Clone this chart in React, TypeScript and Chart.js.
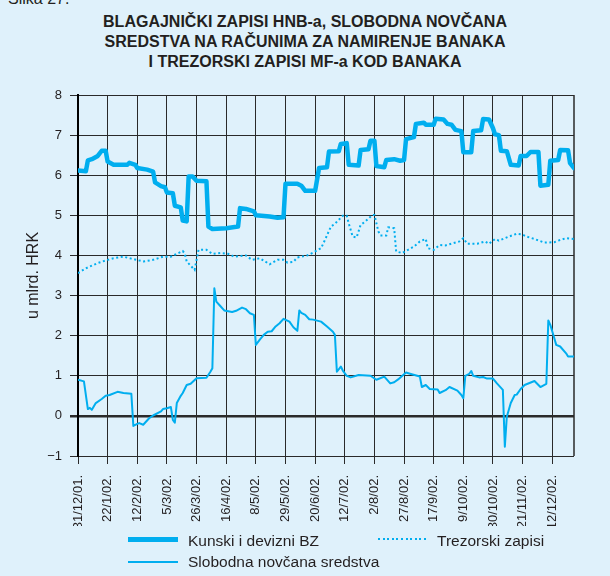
import { useEffect, useRef } from 'react';
import { Chart, registerables } from 'chart.js';

Chart.register(...registerables);

// ---- data (x = business-day index from 31/12/01, y = billion HRK) ----
const dateLabels = ['31/12/01.', '22/1/02.', '12/2/02.', '5/3/02.', '26/3/02.', '16/4/02.', '8/5/02.', '29/5/02.', '20/6/02.', '12/7/02.', '2/8/02.', '27/8/02.', '17/9/02.', '9/10/02.', '30/10/02.', '21/11/02.', '12/12/02.'];
const yTickValues = [-1, 0, 1, 2, 3, 4, 5, 6, 7, 8];

const bzDays = [0, 4, 5, 7, 10, 12, 14, 15, 18, 25, 26, 29, 30, 35, 38, 39, 42, 44, 45, 48, 49, 52, 53, 55, 56, 58, 60, 65, 66, 68, 75, 81, 82, 85, 89, 90, 97, 101, 104, 105, 111, 113, 115, 120, 122, 126, 127, 132, 133, 136, 137, 142, 143, 147, 148, 150, 151, 155, 156, 160, 163, 165, 166, 170, 171, 175, 176, 180, 181, 185, 187, 189, 191, 194, 195, 199, 200, 204, 205, 208, 210, 211, 213, 214, 217, 219, 223, 224, 227, 229, 233, 234, 238, 239, 243, 244, 248, 249, 251];
const bzValues = [6.12, 6.10, 6.37, 6.40, 6.48, 6.61, 6.61, 6.34, 6.26, 6.26, 6.31, 6.26, 6.18, 6.14, 6.09, 5.82, 5.73, 5.70, 5.57, 5.55, 5.24, 5.20, 4.87, 4.85, 5.97, 5.97, 5.86, 5.85, 4.72, 4.66, 4.68, 4.72, 5.18, 5.16, 5.10, 5.00, 4.97, 4.94, 4.95, 5.79, 5.79, 5.74, 5.61, 5.61, 6.18, 6.20, 6.59, 6.60, 6.78, 6.80, 6.26, 6.24, 6.63, 6.65, 6.86, 6.86, 6.23, 6.20, 6.38, 6.40, 6.36, 6.38, 6.90, 6.95, 7.28, 7.31, 7.26, 7.26, 7.41, 7.39, 7.28, 7.26, 7.13, 7.10, 6.57, 6.57, 7.10, 7.12, 7.40, 7.39, 7.17, 7.02, 7.00, 6.61, 6.60, 6.26, 6.24, 6.48, 6.48, 6.58, 6.58, 5.74, 5.76, 6.36, 6.38, 6.63, 6.62, 6.30, 6.18];

const tzDays = [0, 4, 10, 15, 18, 23, 27, 33, 38, 43, 47, 50, 53, 54, 55, 59, 61, 65, 68, 72, 76, 79, 85, 88, 92, 97, 101, 104, 106, 109, 111, 116, 119, 123, 125, 128, 130, 132, 134, 136, 137, 139, 141, 143, 145, 149, 150, 152, 153, 156, 157, 160, 161, 164, 167, 170, 173, 176, 177, 180, 183, 186, 188, 193, 195, 197, 202, 206, 208, 211, 213, 218, 222, 225, 227, 231, 236, 241, 243, 247, 251];
const tzValues = [3.56, 3.68, 3.81, 3.89, 3.93, 3.97, 3.92, 3.85, 3.89, 3.97, 3.97, 4.04, 4.11, 4.05, 3.85, 3.64, 4.14, 4.14, 4.04, 4.06, 4.04, 3.97, 4.00, 3.89, 3.93, 3.78, 3.89, 3.89, 3.82, 3.84, 3.95, 4.00, 4.07, 4.18, 4.39, 4.72, 4.79, 4.89, 4.99, 4.99, 4.80, 4.47, 4.45, 4.76, 4.83, 5.01, 5.01, 4.60, 4.50, 4.50, 4.70, 4.68, 4.10, 4.06, 4.14, 4.22, 4.35, 4.41, 4.18, 4.14, 4.26, 4.25, 4.28, 4.35, 4.43, 4.29, 4.29, 4.35, 4.29, 4.41, 4.37, 4.47, 4.54, 4.52, 4.47, 4.41, 4.32, 4.33, 4.37, 4.43, 4.41];

const snDays = [0, 3, 5, 6, 7, 9, 12, 14, 16, 20, 23, 27, 28, 30, 31, 33, 36, 38, 42, 43, 45, 47, 48, 49, 50, 52, 53, 55, 57, 60, 65, 67, 68, 69, 70, 72, 74, 78, 80, 83, 85, 87, 89, 90, 92, 94, 96, 98, 100, 102, 104, 107, 109, 111, 112, 113, 115, 117, 119, 123, 126, 129, 130, 131, 133, 134, 136, 138, 142, 148, 151, 155, 158, 160, 162, 166, 168, 173, 174, 176, 178, 182, 183, 186, 188, 192, 194, 195, 196, 198, 199, 200, 203, 205, 207, 210, 212, 215, 216, 217, 219, 221, 222, 224, 226, 231, 234, 237, 238, 239, 241, 242, 244, 247, 248, 251];
const snValues = [0.90, 0.86, 0.17, 0.20, 0.15, 0.32, 0.42, 0.50, 0.52, 0.60, 0.57, 0.55, -0.25, -0.20, -0.18, -0.22, -0.06, 0.01, 0.11, 0.17, 0.19, 0.22, -0.10, -0.17, 0.32, 0.50, 0.57, 0.77, 0.80, 0.94, 0.95, 1.10, 1.19, 3.18, 2.85, 2.74, 2.63, 2.59, 2.62, 2.70, 2.66, 2.56, 2.52, 1.77, 1.90, 2.02, 2.10, 2.11, 2.23, 2.31, 2.42, 2.35, 2.21, 2.12, 2.63, 2.57, 2.52, 2.41, 2.40, 2.35, 2.23, 2.10, 2.02, 1.10, 1.23, 1.13, 1.00, 0.96, 1.02, 1.00, 0.90, 0.98, 0.81, 0.84, 0.91, 1.08, 1.05, 0.98, 0.72, 0.77, 0.67, 0.66, 0.57, 0.64, 0.72, 0.63, 0.52, 0.44, 1.00, 1.05, 1.12, 1.00, 0.96, 0.97, 0.93, 0.93, 0.81, 0.65, -0.77, -0.02, 0.32, 0.52, 0.53, 0.67, 0.77, 0.87, 0.72, 0.80, 2.38, 2.27, 1.94, 1.77, 1.73, 1.56, 1.48, 1.48];

const seriesNames = ['Kunski i devizni BZ', 'Trezorski zapisi', 'Slobodna novčana sredstva'];
const titleLines = ['BLAGAJNIČKI ZAPISI HNB-a, SLOBODNA NOVČANA', 'SREDSTVA NA RAČUNIMA ZA NAMIRENJE BANAKA', 'I TREZORSKI ZAPISI MF-a KOD BANAKA'];

const BG = '#dff1fb';
const BLUE = '#00aeef';
const TEXT = '#231f20';
const GRID = '#2a2a2a';
const FONT = '"Liberation Sans", Arial, Helvetica, sans-serif';

const toPoints = (xs: number[], ys: number[]) => xs.map((x, i) => ({ x, y: ys[i] }));

const framePlugin = {
  id: 'frameRight',
  beforeDatasetsDraw(chart: any) {
    const { ctx, chartArea } = chart;
    ctx.save();
    ctx.strokeStyle = GRID;
    ctx.lineWidth = 1.5;
    ctx.beginPath();
    ctx.moveTo(chartArea.right, chartArea.top);
    ctx.lineTo(chartArea.right, chartArea.bottom);
    ctx.stroke();
    ctx.restore();
  },
};

export default function App() {
  const ref = useRef<HTMLCanvasElement>(null);

  useEffect(() => {
    const chart = new Chart(ref.current as HTMLCanvasElement, {
      type: 'line',
      data: {
        datasets: [
          {
            label: seriesNames[0],
            data: toPoints(bzDays, bzValues),
            borderColor: BLUE,
            borderWidth: 4.5,
            borderJoinStyle: 'round',
            borderCapStyle: 'round',
            pointRadius: 0,
            tension: 0,
          },
          {
            label: seriesNames[1],
            data: toPoints(tzDays, tzValues),
            borderColor: BLUE,
            borderWidth: 2,
            borderDash: [2, 2.6],
            pointRadius: 0,
            tension: 0,
          },
          {
            label: seriesNames[2],
            data: toPoints(snDays, snValues),
            borderColor: BLUE,
            borderWidth: 2,
            borderJoinStyle: 'round',
            pointRadius: 0,
            tension: 0,
          },
        ],
      } as any,
      options: {
        animation: false,
        responsive: true,
        maintainAspectRatio: false,
        layout: { padding: { top: 95, left: 20, right: 36, bottom: 50 } },
        plugins: {
          legend: { display: false },
          title: { display: false },
          tooltip: { enabled: false },
        },
        scales: {
          x: {
            type: 'linear',
            min: 0,
            max: 251,
            afterFit: (s: any) => {
              s.height = 70;
            },
            border: { display: false },
            grid: { color: GRID, lineWidth: 1, tickLength: 8, drawTicks: true },
            ticks: {
              stepSize: 15,
              includeBounds: false,
              autoSkip: false,
              maxRotation: 90,
              minRotation: 90,
              padding: 11,
              color: TEXT,
              font: { family: FONT, size: 13 },
              callback: (v: any) => {
                const n = Number(v);
                return n % 15 === 0 ? dateLabels[n / 15] ?? '' : '';
              },
            },
          },
          y: {
            min: yTickValues[0],
            max: yTickValues[yTickValues.length - 1],
            afterFit: (s: any) => {
              s.width = 58;
            },
            border: { display: true, color: '#000', width: 2 },
            grid: {
              color: GRID,
              lineWidth: (ctx: any) => (ctx.tick && ctx.tick.value === 0 ? 2.5 : 1),
              tickLength: 8,
            },
            ticks: {
              stepSize: 1,
              padding: 8,
              color: TEXT,
              font: { family: FONT, size: 13 },
              callback: (v: any) => (Number(v) < 0 ? '\u2212' + Math.abs(Number(v)) : String(v)),
            },
            title: {
              display: true,
              text: 'u mlrd. HRK',
              color: TEXT,
              font: { family: FONT, size: 16 },
              padding: { top: 4, bottom: 0 },
            },
          },
        },
      } as any,
      plugins: [framePlugin],
    });
    return () => chart.destroy();
  }, []);

  const legendText: any = { position: 'absolute', fontSize: 15.5, lineHeight: '18px', whiteSpace: 'nowrap' };

  return (
    <div
      style={{
        position: 'fixed',
        left: 0,
        top: 0,
        width: 610,
        height: 576,
        background: BG,
        overflow: 'hidden',
        fontFamily: FONT,
        color: TEXT,
      }}
    >
      <div style={{ position: 'absolute', left: 8, top: -9, fontSize: 16, lineHeight: '16px' }}>Slika 27.</div>
      {titleLines.map((t, i) => (
        <div
          key={i}
          style={{
            position: 'absolute',
            left: 0,
            width: 610,
            top: 12 + i * 20,
            textAlign: 'center',
            fontFamily: '"Liberation Sans Narrow", "Arial Narrow", "Liberation Sans", sans-serif',
            fontWeight: 'bold',
            fontSize: 16,
            lineHeight: '20px',
          }}
        >
          {t}
        </div>
      ))}
      <div style={{ position: 'absolute', left: 0, top: 0, width: 610, height: 576 }}>
        <canvas ref={ref} />
      </div>
      <div style={{ position: 'absolute', left: 128, top: 537, width: 50, height: 4.5, background: BLUE }} />
      <div style={{ ...legendText, left: 188, top: 532 }}>{seriesNames[0]}</div>
      <div
        style={{
          position: 'absolute',
          left: 378,
          top: 538,
          width: 50,
          height: 2,
          background: `repeating-linear-gradient(to right, ${BLUE} 0px, ${BLUE} 2px, transparent 2px, transparent 4.6px)`,
        }}
      />
      <div style={{ ...legendText, left: 437, top: 532 }}>{seriesNames[1]}</div>
      <div style={{ position: 'absolute', left: 128, top: 561, width: 50, height: 2, background: BLUE }} />
      <div style={{ ...legendText, left: 188, top: 553 }}>{seriesNames[2]}</div>
    </div>
  );
}
